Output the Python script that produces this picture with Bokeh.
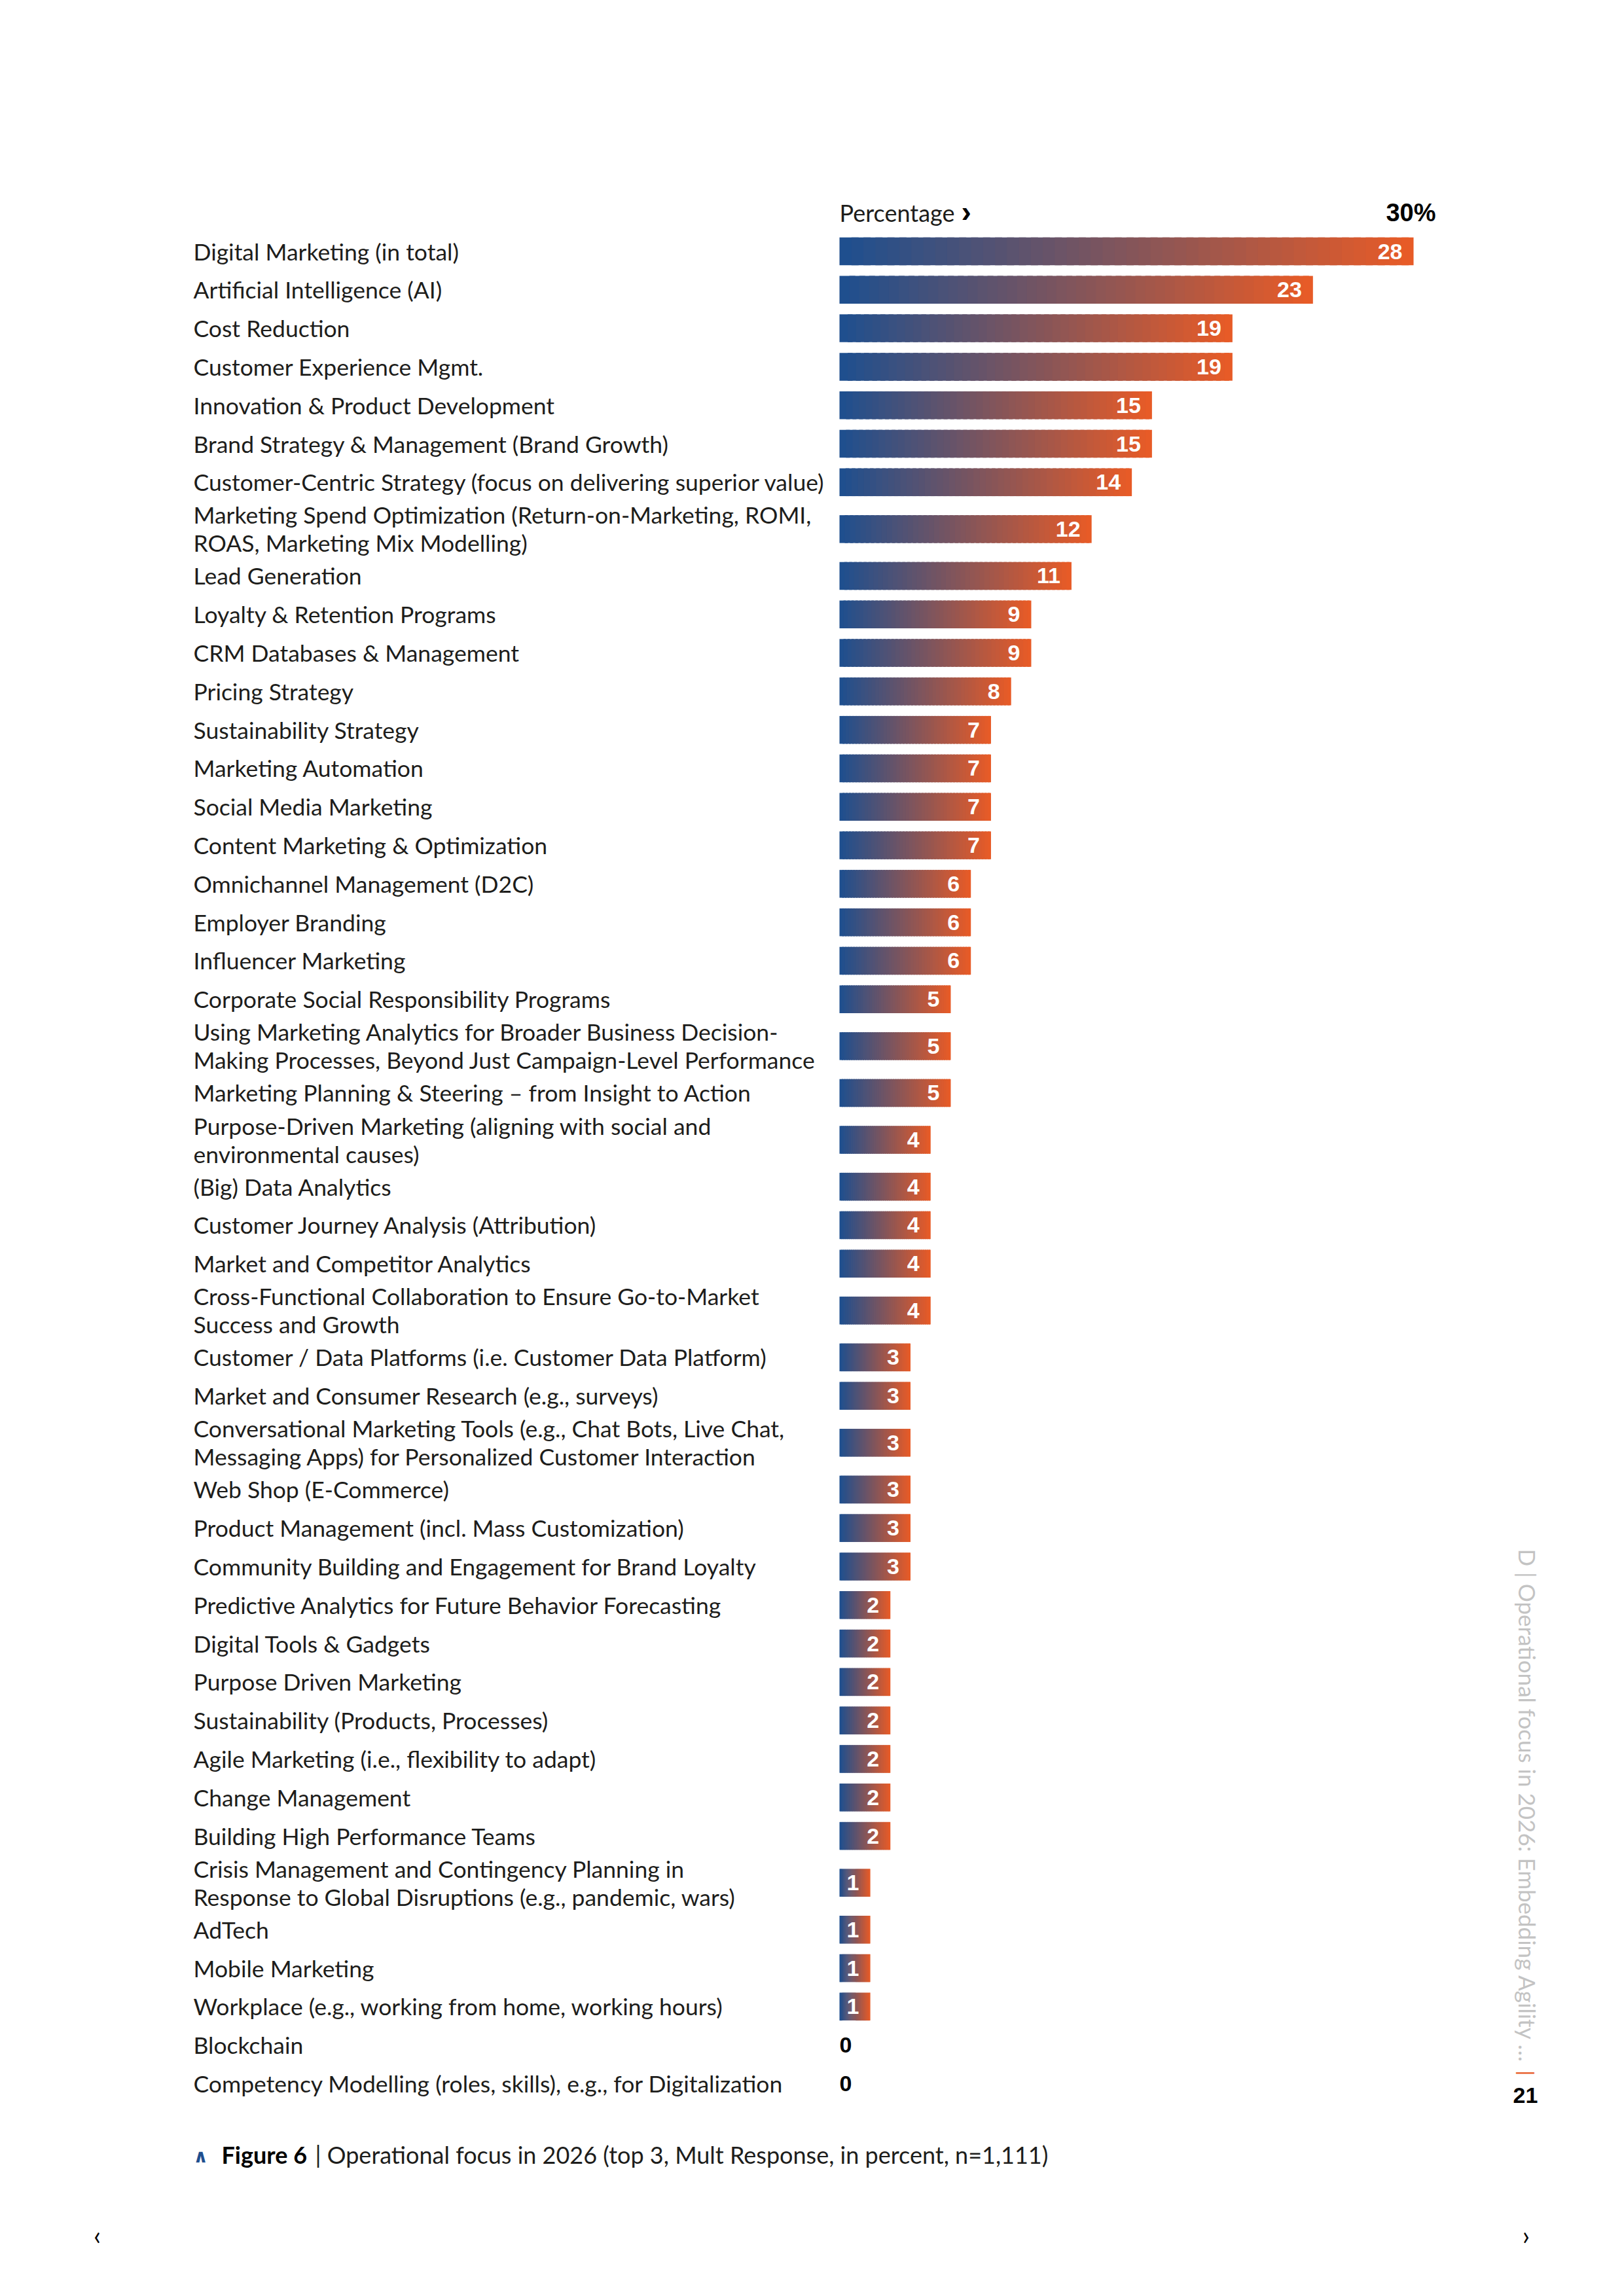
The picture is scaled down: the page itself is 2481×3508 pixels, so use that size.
import numpy as np
from bokeh.plotting import figure
from bokeh.models import Range1d
from bokeh.core.properties import value
from bokeh.embed import file_html
from bokeh.resources import INLINE

# ---------------- data ----------------
categories = [
    "Digital Marketing (in total)",
    "Artificial Intelligence (AI)",
    "Cost Reduction",
    "Customer Experience Mgmt.",
    "Innovation & Product Development",
    "Brand Strategy & Management (Brand Growth)",
    "Customer-Centric Strategy (focus on delivering superior value)",
    "Marketing Spend Optimization (Return-on-Marketing, ROMI,\nROAS, Marketing Mix Modelling)",
    "Lead Generation",
    "Loyalty & Retention Programs",
    "CRM Databases & Management",
    "Pricing Strategy",
    "Sustainability Strategy",
    "Marketing Automation",
    "Social Media Marketing",
    "Content Marketing & Optimization",
    "Omnichannel Management (D2C)",
    "Employer Branding",
    "Influencer Marketing",
    "Corporate Social Responsibility Programs",
    "Using Marketing Analytics for Broader Business Decision-\nMaking Processes, Beyond Just Campaign-Level Performance",
    "Marketing Planning & Steering \u2013 from Insight to Action",
    "Purpose-Driven Marketing (aligning with social and\nenvironmental causes)",
    "(Big) Data Analytics",
    "Customer Journey Analysis (Attribution)",
    "Market and Competitor Analytics",
    "Cross-Functional Collaboration to Ensure Go-to-Market\nSuccess and Growth",
    "Customer / Data Platforms (i.e. Customer Data Platform)",
    "Market and Consumer Research (e.g., surveys)",
    "Conversational Marketing Tools (e.g., Chat Bots, Live Chat,\nMessaging Apps) for Personalized Customer Interaction",
    "Web Shop (E-Commerce)",
    "Product Management (incl. Mass Customization)",
    "Community Building and Engagement for Brand Loyalty",
    "Predictive Analytics for Future Behavior Forecasting",
    "Digital Tools & Gadgets",
    "Purpose Driven Marketing",
    "Sustainability (Products, Processes)",
    "Agile Marketing (i.e., flexibility to adapt)",
    "Change Management",
    "Building High Performance Teams",
    "Crisis Management and Contingency Planning in\nResponse to Global Disruptions (e.g., pandemic, wars)",
    "AdTech",
    "Mobile Marketing",
    "Workplace (e.g., working from home, working hours)",
    "Blockchain",
    "Competency Modelling (roles, skills), e.g., for Digitalization",
]
values = [28, 23, 19, 19, 15, 15, 14, 12, 11, 9, 9, 8, 7, 7, 7, 7, 6, 6, 6,
          5, 5, 5, 4, 4, 4, 4, 4, 3, 3, 3, 3, 3, 3, 2, 2, 2, 2, 2, 2, 2,
          1, 1, 1, 1, 0, 0]
axis_label = "Percentage"
axis_max_label = "30%"
caption_bold = "Figure 6"
caption_text = "| Operational focus in 2026 (top 3, Mult Response, in percent, n=1,111)"
side_text = "D | Operational focus in 2026: Embedding Agility \u2026"
page_number = "21"

# ---------------- layout ----------------
W, H = 2465, 3490
MARGIN = 0          # canvas origin as observed on the page
SX = 30.74          # px per percentage point
X0 = -0.53          # bars start slightly left of zero
BAR_PX = 1282       # page x of bar start
RY = 58.8           # px per single row
ROW0_PX = 383.5     # page y of first row centre
DOUBLE = 1.435      # height of a two-line row (in rows)
BAR_H = 42.5 / RY

FONT = "Lato"
BOLD_FONT = "Liberation Sans"
TXT = "#1d1d1b"

heights = [1.0 if "\n" not in c else DOUBLE for c in categories]
centers = []
acc = 0.0
for i, h in enumerate(heights):
    if i > 0:
        acc += (heights[i - 1] + h) / 2
    centers.append(acc)

xs = X0 - (BAR_PX - MARGIN) / SX
xe = xs + W / SX
yt = -(ROW0_PX - MARGIN) / RY
yb = yt + H / RY


def px2x(px):
    return xs + (px - MARGIN) / SX


def px2y(py):
    return yt + (py - MARGIN) / RY


p = figure(width=W, height=H, x_range=Range1d(xs, xe), y_range=Range1d(yb, yt),
           x_axis_type=None, y_axis_type=None, toolbar_location=None,
           output_backend="svg", min_border=0)
p.outline_line_color = None
p.background_fill_color = "white"
p.border_fill_color = "white"
p.grid.visible = False

# ---------------- gradient bars ----------------
C_L = np.array([29, 79, 143], dtype=float)
C_R = np.array([233, 91, 38], dtype=float)
N = 48
ql, qr, qt, qb, qc = [], [], [], [], []
for v, yc in zip(values, centers):
    if v <= 0:
        continue
    edges = np.linspace(X0, v, N + 1)
    step = edges[1] - edges[0]
    for k in range(N):
        t = (k + 0.5) / N
        col = C_L * (1 - t) + C_R * t
        ql.append(edges[k])
        qr.append(edges[k + 1] + (0.6 * step if k < N - 1 else 0))
        qt.append(yc - BAR_H / 2)
        qb.append(yc + BAR_H / 2)
        qc.append("#%02x%02x%02x" % tuple(int(round(c)) for c in col))

p.quad(left=ql, right=qr, top=qt, bottom=qb, fill_color=qc, line_color=None)

# value labels
pos_x = [v for v in values if v > 0]
pos_y = [c for v, c in zip(values, centers) if v > 0]
pos_t = [str(v) for v in values if v > 0]
p.text(x=pos_x, y=pos_y, text=pos_t, x_offset=-17, text_align="right",
       text_baseline="middle", text_color="white", text_font=value(BOLD_FONT),
       text_font_style="bold", text_font_size="34px")
zero_y = [c for v, c in zip(values, centers) if v == 0]
zero_t = [str(v) for v in values if v == 0]
p.text(x=[X0] * len(zero_y), y=zero_y, text=zero_t, text_align="left",
       text_baseline="middle", text_color="black", text_font=value(BOLD_FONT),
       text_font_style="bold", text_font_size="34px")

# category labels
p.text(x=[px2x(295)] * len(categories), y=centers, text=categories,
       text_align="left", text_baseline="middle", text_color=TXT,
       text_font=value(FONT), text_font_size="35.5px", text_line_height=1.0)

# header
p.text(x=[X0], y=[px2y(324)], text=[axis_label], text_align="left",
       text_baseline="middle", text_color=TXT, text_font=value(FONT),
       text_font_size="36px")
p.text(x=[px2x(1468)], y=[px2y(322)], text=["\u203a"], text_align="left",
       text_baseline="middle", text_color="black", text_font=value(BOLD_FONT),
       text_font_style="bold", text_font_size="46px")
p.text(x=[px2x(2193)], y=[px2y(324)], text=[axis_max_label], text_align="right",
       text_baseline="middle", text_color="black", text_font=value(BOLD_FONT),
       text_font_style="bold", text_font_size="38px")

# caption
p.text(x=[px2x(306)], y=[px2y(3294)], text=["\u2227"], text_align="center",
       text_baseline="middle", text_color="#1f4f8f", text_font=value("DejaVu Sans"),
       text_font_style="bold", text_font_size="28px")
p.text(x=[px2x(338)], y=[px2y(3291)], text=[caption_bold], text_align="left",
       text_baseline="middle", text_color="black", text_font=value(FONT),
       text_font_style="bold", text_font_size="36px")
p.text(x=[px2x(481)], y=[px2y(3291)], text=[caption_text], text_align="left",
       text_baseline="middle", text_color=TXT, text_font=value(FONT),
       text_font_size="36px")

# side running title
p.text(x=[px2x(2333)], y=[px2y(2366)], text=[side_text], angle=-np.pi / 2,
       text_align="left", text_baseline="middle", text_color="#c3c3c3",
       text_font=value(FONT), text_font_size="35px")
p.text(x=[px2x(2332)], y=[px2y(3167)], text=["|"], angle=-np.pi / 2,
       text_align="center", text_baseline="middle", text_color="#e85b27",
       text_font=value(BOLD_FONT), text_font_size="30px")
p.text(x=[px2x(2330)], y=[px2y(3201)], text=[page_number], text_align="center",
       text_baseline="middle", text_color="black", text_font=value(BOLD_FONT),
       text_font_style="bold", text_font_size="34px")

# page navigation
p.text(x=[px2x(148), px2x(2331)], y=[px2y(3414)] * 2, text=["\u2039", "\u203a"],
       text_align="center", text_baseline="middle", text_color="black",
       text_font=value(FONT), text_font_size="40px")

open("out.html", "w").write(file_html(p, INLINE))
